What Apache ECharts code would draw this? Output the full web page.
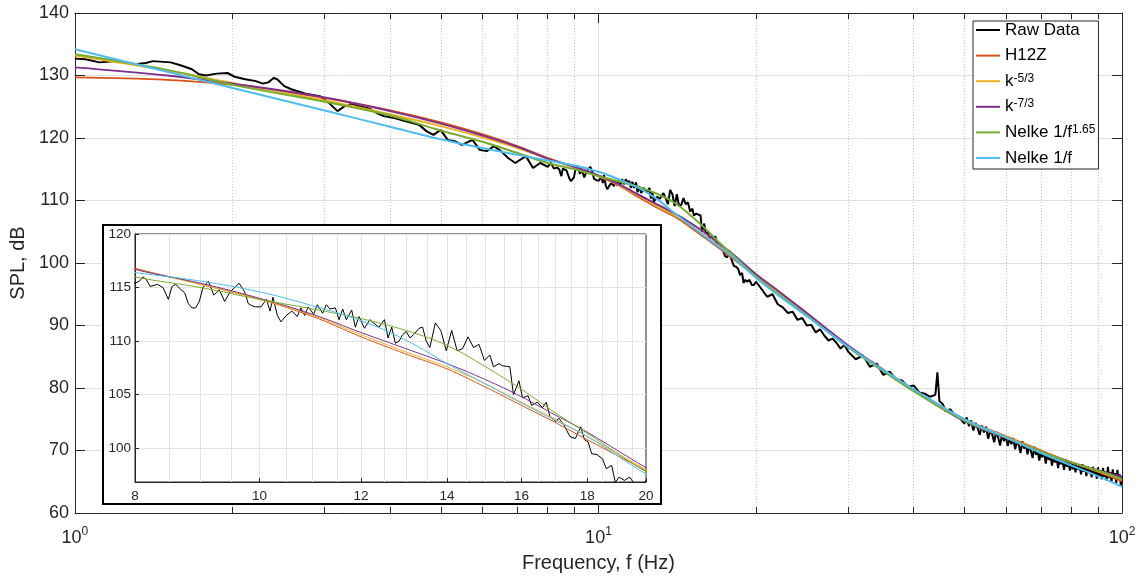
<!DOCTYPE html>
<html><head><meta charset="utf-8">
<script src="https://cdn.jsdelivr.net/npm/echarts@6/dist/echarts.min.js"></script>
<style>html,body{margin:0;padding:0;background:#fff}#c{width:1144px;height:579px}</style>
</head><body><div id="c"></div>
<script>
// ---------- data ----------
const rawFreq = [
  1.0,1.047,1.114,1.205,1.302,1.365,1.409,1.523,1.596,1.673,1.725,1.781,1.866,1.956,2.018,2.115,2.216,2.287,2.341,2.396,
  2.434,2.511,2.59,2.758,2.936,3.029,3.174,3.274,3.379,3.486,3.653,3.769,3.89,4.076,4.272,4.407,4.546,4.691,4.84,4.993,
  5.153,5.316,5.484,5.747,5.931,6.119,6.313,6.515,6.721,6.934,7.266,7.499,7.737,
  8.000,8.063,8.116,8.168,8.221,8.330,8.412,8.493,8.549,8.605,8.689,8.746,8.803,8.861,8.919,8.977,9.036,9.125,9.214,9.305,
  9.395,9.488,9.562,9.643,9.738,9.802,9.866,9.930,10.027,10.126,10.192,10.245,10.326,10.393,10.495,10.598,10.702,10.772,10.843,10.914,
  11.021,11.093,11.201,11.274,11.348,11.459,11.534,11.609,11.685,11.799,11.876,11.954,12.071,12.190,12.270,12.391,12.513,12.594,12.677,12.760,
  12.843,12.928,13.012,13.097,13.182,13.312,13.399,13.486,13.574,13.708,13.843,13.979,14.116,14.255,14.395,14.536,14.679,14.823,14.969,15.116,
  15.215,15.365,15.465,15.668,15.770,15.925,16.029,16.187,16.293,16.453,16.615,16.723,16.833,16.998,17.109,17.277,17.447,17.619,17.792,17.909,
  18.026,18.144,18.322,18.503,18.624,18.807,18.930,19.054,19.242,19.431,19.622,19.815,20.000,
  20.5,21,21.5,22,22.5,23,23.5,24,24.5,25,25.5,26,26.5,27,27.5,28,28.5,29,29.5,30,
  31,32,33,34,35,36,37,38,39,40,41,42,43,44,44.4,44.8,45.5,46,47,48,49,50,
  50.5,51,51.5,52,52.5,53,53.5,54,54.5,55,55.5,56,56.5,57,57.5,58,58.5,59,59.5,60,
  60.5,61,61.5,62,62.5,63,63.5,64,64.5,65,65.5,66,66.5,67,67.5,68,68.5,69,69.5,70,
  70.5,71,71.5,72,72.5,73,73.5,74,74.5,75,75.5,76,76.5,77,77.5,78,78.5,79,79.5,80,
  80.5,81,81.5,82,82.5,83,83.5,84,84.5,85,85.5,86,86.5,87,87.5,88,88.5,89,89.5,90,
  90.5,91,91.5,92,92.5,93,93.5,94,94.5,95,95.5,96,96.5,97,97.5,98,98.5,99,99.5,100
];
const rawSpl = [
  132.7,132.6,132.1,132.3,131.8,132.0,132.3,132.1,131.6,131.0,130.2,130.0,130.3,130.4,129.8,129.4,129.1,128.7,128.9,129.6,
  129.4,128.3,127.8,127.1,126.7,125.9,124.3,125.1,125.5,125.1,124.7,124.0,123.5,123.2,122.7,122.4,122.1,121.1,120.5,121.3,
  119.7,119.5,118.9,119.7,118.1,117.9,118.7,117.9,116.8,116.0,117.1,115.2,116.0,
  115.4,115.6,116.0,115.7,115.1,115.3,115.0,113.9,115.1,115.3,114.8,114.5,113.5,113.1,113.1,113.7,115.0,115.6,114.3,114.8,
  113.7,114.6,115.0,115.4,114.6,113.5,113.3,113.2,113.2,113.9,112.8,114.1,112.4,111.8,112.4,112.8,112.3,113.1,112.4,113.2,
  112.5,113.4,112.6,113.4,113.0,113.1,112.0,113.0,112.0,112.9,111.3,112.3,111.2,112.0,111.7,111.3,112.0,110.3,111.3,109.8,
  110.0,110.6,110.9,110.3,110.6,111.2,111.3,110.0,109.4,111.7,111.0,109.1,111.0,109.1,109.3,110.4,109.4,109.7,108.2,108.7,
  107.6,107.9,107.7,107.6,105.0,106.3,104.7,104.9,104.0,104.3,103.8,104.3,103.0,102.5,102.8,102.1,101.1,100.9,102.0,100.8,
  100.6,99.5,99.4,99.0,98.1,98.4,96.8,97.3,97.0,97.3,96.5,96.5,97.0,
  95.8,94.6,95.0,93.4,92.9,92.0,92.2,90.9,91.2,90.0,90.1,88.9,89.4,88.4,87.6,87.9,87.2,86.3,86.9,85.8,
  84.6,85.2,83.4,83.9,82.1,82.6,81.4,81.2,80.2,80.4,79.3,79.1,78.6,78.9,82.5,77.9,77.4,76.3,76.6,75.6,75.2,74.3,
  75.3,73.9,74.8,73.2,74.4,73.6,72.5,74.0,72.9,73.8,71.9,73.1,72.6,71.3,73.0,72.1,70.8,72.6,71.5,72.3,
  70.7,71.9,71.0,72.0,70.2,71.4,70.9,69.6,71.5,70.3,71.0,69.4,70.8,69.9,68.8,70.6,69.3,70.1,68.4,69.8,
  68.9,69.9,67.9,69.4,68.5,69.2,67.6,69.0,68.1,68.9,67.2,68.7,67.8,68.4,66.9,68.6,67.4,68.3,66.8,68.1,
  67.0,68.0,66.5,67.9,66.9,67.6,66.2,67.8,66.6,67.3,65.9,67.5,66.4,67.0,65.7,67.4,66.1,66.9,65.5,67.3,
  65.9,66.8,65.4,67.2,65.8,66.6,65.2,67.4,65.6,66.5,65.0,67.0,65.5,66.4,64.8,66.9,65.3,66.2,64.4,65.8
];
const fitFreq = [1,1.5,2,3,4,5,6,7,8,9,10,11,12,13,14,15,16,17,18,20,22,25,30,35,40,50,60,70,80,90,100];
const fitH12Z   = [129.7,129.3,128.5,126.4,124.4,122.5,120.6,118.7,116.8,115.3,113.9,112.3,110.4,108.8,107.4,105.7,104.0,102.4,100.8,97.9,95.2,91.7,86.6,82.9,79.7,75.0,72.3,70.0,68.1,66.6,65.1];
const fitK53    = [133.2,130.8,128.8,126.0,123.8,121.9,120.1,118.4,116.7,115.3,113.9,112.4,110.6,109.0,107.6,106.0,104.3,102.7,101.1,98.0,95.3,91.8,86.7,82.9,79.7,74.9,72.2,69.9,68.1,66.7,65.4];
const fitK73    = [131.3,130.0,128.7,126.5,124.3,122.3,120.4,118.6,116.7,115.4,114.0,112.5,110.8,109.3,107.9,106.4,104.8,103.1,101.5,98.2,95.6,92.0,86.8,82.9,79.6,74.7,72.0,69.8,68.1,66.8,65.8];
const fitNelke165 = [133.4,130.9,128.5,125.8,123.6,121.2,119.4,117.6,116.0,115.0,113.9,113.0,112.1,111.0,109.6,107.6,105.5,103.3,101.4,97.8,95.1,91.6,86.5,82.7,79.5,74.8,72.1,69.8,68.1,66.8,65.4];
const fitNelke1 = [134.2,130.6,128.0,124.4,121.8,119.8,118.4,117.3,116.4,115.6,114.6,113.3,111.9,110.1,107.9,106.0,104.2,102.6,101.1,97.6,94.9,91.5,86.6,82.9,79.8,75.0,72.1,69.6,67.6,65.9,64.2];

const seriesNames = ['Raw Data','H12Z','k-5/3','k-7/3','Nelke 1/f1.65','Nelke 1/f'];
const legendLabels = {
  'Raw Data':'{b|Raw Data}', 'H12Z':'{b|H12Z}', 'k-5/3':'{b|k}{s|-5/3}', 'k-7/3':'{b|k}{s|-7/3}',
  'Nelke 1/f1.65':'{b|Nelke 1/f}{s|1.65}', 'Nelke 1/f':'{b|Nelke 1/f}'
};
const colors = ['#000000','#D95319','#EDB120','#7E2F8E','#77AC30','#4DBEEE'];
const mainMinorTicks = [2,3,4,5,6,7,8,9,20,30,40,50,60,70,80,90];
const insetXLabels = [8,10,12,14,16,18,20];
const insetXGrid = [8.5,9,9.5,10,10.5,11,11.5,12,12.5,13,13.5,14,14.5,15,15.5,16,16.5,17,17.5,18,18.5,19,19.5];
const insetYLabels = [100,105,110,115,120];

// ---------- chart ----------
const font = 'Liberation Sans, Arial, Helvetica, sans-serif';
const ax = '#262626';
const pairs = (xs, ys) => xs.map((x, i) => [x, ys[i]]);
const curves = [pairs(rawFreq, rawSpl), pairs(fitFreq, fitH12Z), pairs(fitFreq, fitK53),
                pairs(fitFreq, fitK73), pairs(fitFreq, fitNelke165), pairs(fitFreq, fitNelke1)];

const series = [];
curves.forEach((d, i) => {
  series.push({type:'line', name:seriesNames[i], xAxisIndex:0, yAxisIndex:0, data:d,
    showSymbol:false, smooth: i === 0 ? false : 0.4, silent:true, z:2,
    lineStyle:{color:colors[i], width:2}, itemStyle:{color:colors[i]}});
});
curves.forEach((d, i) => {
  series.push({type:'line', name:seriesNames[i], xAxisIndex:4, yAxisIndex:2, data:d,
    showSymbol:false, smooth: i === 0 ? false : 0.4, silent:true, z:13,
    lineStyle:{color:colors[i], width:1}, itemStyle:{color:colors[i]}});
});

const option = {
  animation:false,
  backgroundColor:'#fff',
  textStyle:{fontFamily:font},
  grid:[
    {left:71, right:22, top:13, bottom:66, show:false},
    {left:135, top:234, width:511, height:248, show:true, backgroundColor:'#fff', borderColor:ax, borderWidth:1, z:11}
  ],
  graphic:{elements:[{type:'rect', z:10, silent:true,
    shape:{x:103, y:225, width:558, height:279}, style:{fill:'#fff', stroke:'#000', lineWidth:2}}]},
  legend:{
    orient:'vertical', left:973, top:21, z:20,
    data:seriesNames, icon:'rect', itemWidth:24, itemHeight:2, itemGap:7.6,
    padding:[0,3,2,3], backgroundColor:'#fff', borderColor:ax, borderWidth:1,
    formatter: n => legendLabels[n],
    textStyle:{fontSize:17, lineHeight:18, color:'#000', fontFamily:font,
      rich:{b:{fontSize:17, lineHeight:18, fontFamily:font, color:'#000'},
            s:{fontSize:12, lineHeight:12, verticalAlign:'top', fontFamily:font, color:'#000'}}}
  },
  xAxis:[
    {type:'log', logBase:10, min:1, max:100, gridIndex:0, position:'bottom', z:0,
     axisLine:{show:true, lineStyle:{color:ax, width:1}},
     axisTick:{show:true, inside:true, length:10, lineStyle:{color:ax}},
     axisLabel:{margin:13, color:ax, formatter: v => '{b|10}{s|' + Math.round(Math.log10(v)) + '}',
       rich:{b:{fontSize:18, lineHeight:24, fontFamily:font, color:ax},
             s:{fontSize:12, lineHeight:14, verticalAlign:'top', fontFamily:font, color:ax}}},
     splitLine:{show:true, lineStyle:{color:'#dedede', width:1}},
     name:'Frequency, f (Hz)', nameLocation:'middle', nameGap:40,
     nameTextStyle:{fontSize:20, color:ax, fontFamily:font}},
    {type:'log', logBase:10, min:1, max:100, gridIndex:0, position:'bottom', z:0,
     axisLine:{show:false},
     axisTick:{show:true, inside:true, length:6, customValues:mainMinorTicks, lineStyle:{color:ax}},
     axisLabel:{show:false},
     splitLine:{show:true, customValues:mainMinorTicks, lineStyle:{color:'#c4c4c4', width:1, type:[1,2]}}},
    {type:'log', logBase:10, min:1, max:100, gridIndex:0, position:'top', z:0,
     axisLine:{show:true, lineStyle:{color:ax, width:1}},
     axisTick:{show:true, inside:true, length:10, lineStyle:{color:ax}},
     axisLabel:{show:false}, splitLine:{show:false}},
    {type:'log', logBase:10, min:1, max:100, gridIndex:0, position:'top', z:0,
     axisLine:{show:false},
     axisTick:{show:true, inside:true, length:6, customValues:mainMinorTicks, lineStyle:{color:ax}},
     axisLabel:{show:false}, splitLine:{show:false}},
    {type:'log', logBase:10, min:8, max:20, gridIndex:1, position:'bottom', z:12,
     axisLine:{show:true, lineStyle:{color:ax, width:1}},
     axisTick:{show:true, inside:true, length:4, customValues:insetXLabels, lineStyle:{color:ax}},
     axisLabel:{customValues:insetXLabels, fontSize:13.5, margin:7, color:ax, fontFamily:font},
     splitLine:{show:false}},
    {type:'log', logBase:10, min:8, max:20, gridIndex:1, position:'bottom', z:12,
     axisLine:{show:false},
     axisTick:{show:false, customValues:insetXGrid},
     axisLabel:{show:false},
     splitLine:{show:true, customValues:insetXGrid, lineStyle:{color:'#e3e3e3', width:1}}}
  ],
  yAxis:[
    {type:'value', min:60, max:140, interval:10, gridIndex:0, position:'left', z:0,
     axisLine:{show:true, lineStyle:{color:ax, width:1}},
     axisTick:{show:true, inside:true, length:10, lineStyle:{color:ax}},
     axisLabel:{fontSize:18, margin:6, color:ax, fontFamily:font},
     splitLine:{show:true, lineStyle:{color:'#dedede', width:1}},
     name:'SPL, dB', nameLocation:'middle', nameGap:35, nameRotate:90,
     nameTextStyle:{fontSize:20, color:ax, fontFamily:font}},
    {type:'value', min:60, max:140, interval:10, gridIndex:0, position:'right', z:0,
     axisLine:{show:true, lineStyle:{color:ax, width:1}},
     axisTick:{show:true, inside:true, length:10, lineStyle:{color:ax}},
     axisLabel:{show:false}, splitLine:{show:false}},
    {type:'value', min:96.85, max:120, gridIndex:1, position:'left', z:12,
     axisLine:{show:true, lineStyle:{color:ax, width:1}},
     axisTick:{show:true, inside:true, length:4, customValues:insetYLabels, lineStyle:{color:ax}},
     axisLabel:{customValues:insetYLabels, fontSize:13.5, margin:4, color:ax, fontFamily:font},
     splitLine:{show:true, customValues:insetYLabels, lineStyle:{color:'#e3e3e3', width:1}}}
  ],
  series: series
};
const chart = echarts.init(document.getElementById('c'), null, {renderer:'canvas'});
chart.setOption(option);
</script></body></html>
